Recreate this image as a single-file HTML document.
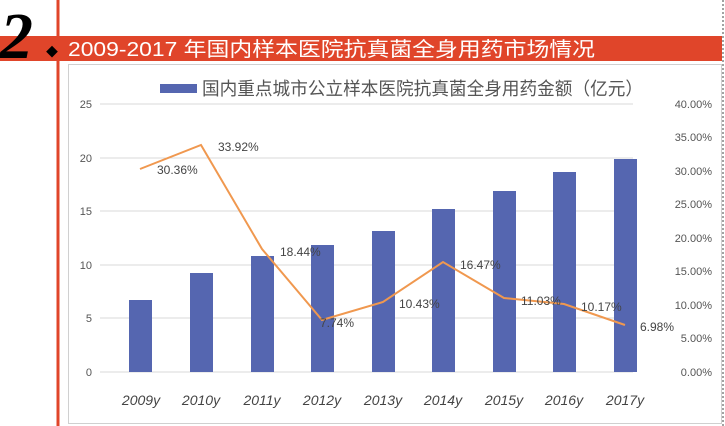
<!DOCTYPE html>
<html><head><meta charset="utf-8"><style>
body{margin:0;background:#fff;width:725px;height:426px;overflow:hidden;position:relative;font-family:"Liberation Sans","Noto Sans CJK SC",sans-serif}
</style></head><body>
<svg width="725" height="426" viewBox="0 0 725 426" xmlns="http://www.w3.org/2000/svg" style="position:absolute;left:0;top:0">
<rect x="0" y="0" width="725" height="426" fill="#fff"/>
<line x1="58" y1="0" x2="58" y2="426" stroke="#e0452a" stroke-width="3"/>
<line x1="723" y1="0" x2="723" y2="426" stroke="#444" stroke-width="1" stroke-dasharray="2,2"/>
<rect x="0" y="36" width="722" height="25" fill="#e0452a"/>
<text x="0" y="58" font-family="Liberation Serif,serif" font-size="66" font-weight="bold" font-style="italic" fill="#000">2</text>
<text x="46" y="56" font-size="12" fill="#000">◆</text>
<text x="68" y="56" font-size="20" fill="#fff" textLength="527" lengthAdjust="spacingAndGlyphs">2009-2017 年国内样本医院抗真菌全身用药市场情况</text>
<rect x="68.5" y="64.5" width="653" height="359" fill="#fff" stroke="#d0d0d0"/>
<rect x="160" y="84" width="37" height="9" fill="#5566b0"/>
<text x="202" y="95" font-size="18" fill="#555" textLength="441" lengthAdjust="spacingAndGlyphs">国内重点城市公立样本医院抗真菌全身用药金额（亿元）</text>
<g stroke="#d9d9d9" stroke-width="1">
<line x1="100" y1="104" x2="633" y2="104"/><line x1="100" y1="158" x2="633" y2="158"/>
<line x1="100" y1="211" x2="633" y2="211"/><line x1="100" y1="265" x2="633" y2="265"/>
<line x1="100" y1="318" x2="633" y2="318"/><line x1="100" y1="372" x2="633" y2="372"/>
</g>
<g font-size="11" fill="#555" text-anchor="end">
<text x="92" y="108">25</text><text x="92" y="162">20</text><text x="92" y="215">15</text>
<text x="92" y="269">10</text><text x="92" y="322">5</text><text x="92" y="376">0</text>
</g>
<g font-size="11" fill="#555" text-anchor="end">
<text x="712" y="108">40.00%</text><text x="712" y="141">35.00%</text><text x="712" y="175">30.00%</text>
<text x="712" y="208">25.00%</text><text x="712" y="242">20.00%</text><text x="712" y="275">15.00%</text>
<text x="712" y="309">10.00%</text><text x="712" y="342">5.00%</text><text x="712" y="376">0.00%</text>
</g>
<g fill="#5566b0">
<rect x="129" y="300" width="23" height="72"/>
<rect x="190" y="273" width="23" height="99"/>
<rect x="251" y="256" width="23" height="116"/>
<rect x="311" y="245" width="23" height="127"/>
<rect x="372" y="231" width="23" height="141"/>
<rect x="432" y="209" width="23" height="163"/>
<rect x="493" y="191" width="23" height="181"/>
<rect x="553" y="172" width="23" height="200"/>
<rect x="614" y="159" width="23" height="213"/>
</g>
<polyline fill="none" stroke="#f0984f" stroke-width="2" points="140,169 201,145 262,249 322,320 383,302 443,262 504,298 564,304 625,325"/>
<g font-size="12" fill="#444">
<text x="157" y="174">30.36%</text><text x="218" y="151">33.92%</text><text x="280" y="256">18.44%</text>
<text x="320" y="327">7.74%</text><text x="399" y="308">10.43%</text><text x="460" y="269">16.47%</text>
<text x="521" y="305">11.03%</text><text x="581" y="311">10.17%</text><text x="640" y="331">6.98%</text>
</g>
<g font-size="14" font-style="italic" fill="#444" text-anchor="middle">
<text x="141" y="405">2009y</text><text x="201" y="405">2010y</text><text x="262" y="405">2011y</text>
<text x="322" y="405">2012y</text><text x="383" y="405">2013y</text><text x="443" y="405">2014y</text>
<text x="504" y="405">2015y</text><text x="564" y="405">2016y</text><text x="625" y="405">2017y</text>
</g>
</svg>
</body></html>
